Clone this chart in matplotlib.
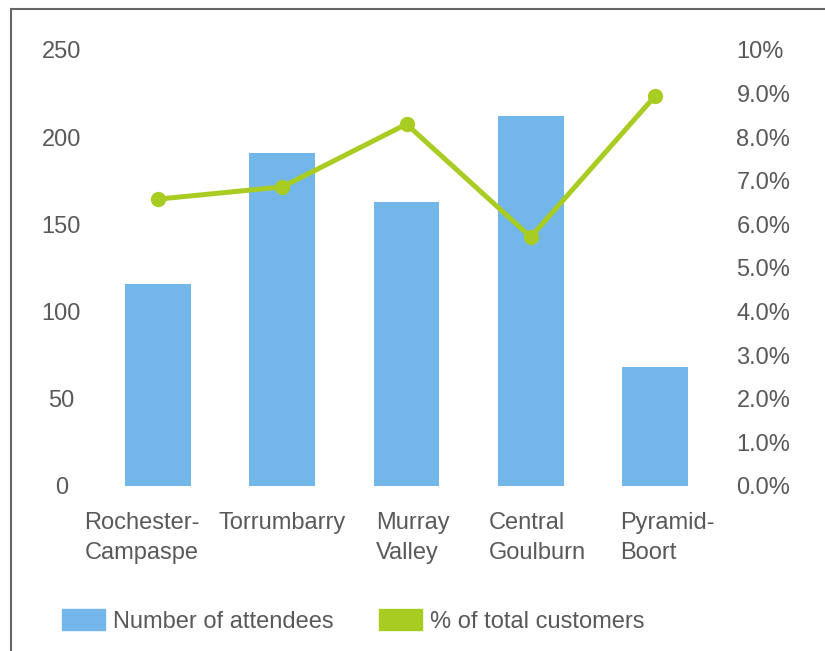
import matplotlib

matplotlib.use("Agg")
import matplotlib.pyplot as plt
from matplotlib.lines import Line2D
from matplotlib.patches import Patch
from matplotlib.transforms import ScaledTranslation

# data
regions = ["Rochester-\nCampaspe", "Torrumbarry", "Murray\nValley",
           "Central\nGoulburn", "Pyramid-\nBoort"]
attendees = [116, 191, 163, 212, 68]
pct_customers = [6.58, 6.86, 8.30, 5.71, 8.94]

left_ticks = [0, 50, 100, 150, 200, 250]
right_ticks = [0, 1, 2, 3, 4, 5, 6, 7, 8, 9, 10]
right_ticklabels = ["0.0%", "1.0%", "2.0%", "3.0%", "4.0%", "5.0%",
                    "6.0%", "7.0%", "8.0%", "9.0%", "10%"]

BLUE = "#72b6ea"
GREEN = "#a8cc22"
TEXT = "#595959"
FS = 17

plt.rcParams["font.family"] = ["Liberation Sans", "DejaVu Sans"]

fig = plt.figure(figsize=(8.25, 6.51), dpi=100)
ax = fig.add_axes([96 / 825, 1 - 486 / 651, 621 / 825, 436 / 651])

x = list(range(len(regions)))
ax.bar(x, attendees, width=0.53, color=BLUE, zorder=1)
ax.set_xlim(-0.5, len(regions) - 0.5)
ax.set_ylim(0, 250)
ax.set_yticks(left_ticks)
ax.set_xticks(x)
ax.set_xticklabels(regions, multialignment="left", linespacing=1.45)
ax.tick_params(axis="y", length=0, pad=25, labelsize=FS, labelcolor=TEXT)
ax.tick_params(axis="x", length=0, pad=19, labelsize=FS, labelcolor=TEXT)
for lbl in ax.get_yticklabels():
    lbl.set_horizontalalignment("center")
# the category labels sit a little off-centre in the original
label_shift_px = [-16, 0, 6, 7, 12]
for lbl, dx in zip(ax.get_xticklabels(), label_shift_px):
    lbl.set_transform(lbl.get_transform()
                      + ScaledTranslation(dx / 100, 0, fig.dpi_scale_trans))
for s in ax.spines.values():
    s.set_visible(False)

ax2 = ax.twinx()
ax2.plot(x, pct_customers, color=GREEN, lw=3.6, marker="o", markersize=10,
         solid_joinstyle="round", zorder=3)
ax2.set_ylim(0, 10)
ax2.set_yticks(right_ticks)
ax2.set_yticklabels(right_ticklabels)
ax2.tick_params(axis="y", length=0, pad=14, labelsize=FS, labelcolor=TEXT)
for s in ax2.spines.values():
    s.set_visible(False)

handles = [Patch(color=BLUE, label="Number of attendees"),
           Patch(color=GREEN, label="% of total customers")]
fig.legend(handles=handles, loc="center left", bbox_to_anchor=(62 / 825, 1 - 621 / 651),
           ncol=2, frameon=False, fontsize=FS, labelcolor=TEXT,
           handlelength=1.8, handleheight=1.0, handletextpad=0.35,
           columnspacing=1.95, borderpad=0, borderaxespad=0)

# thin frame on the top and left edges
fig.add_artist(Line2D([11 / 825, 1], [1 - 9 / 651, 1 - 9 / 651],
                      transform=fig.transFigure, color="#666666", lw=1.5))
fig.add_artist(Line2D([11 / 825, 11 / 825], [0, 1 - 9 / 651],
                      transform=fig.transFigure, color="#666666", lw=1.5))

fig.savefig("out.png", dpi=100)
plt.close(fig)
